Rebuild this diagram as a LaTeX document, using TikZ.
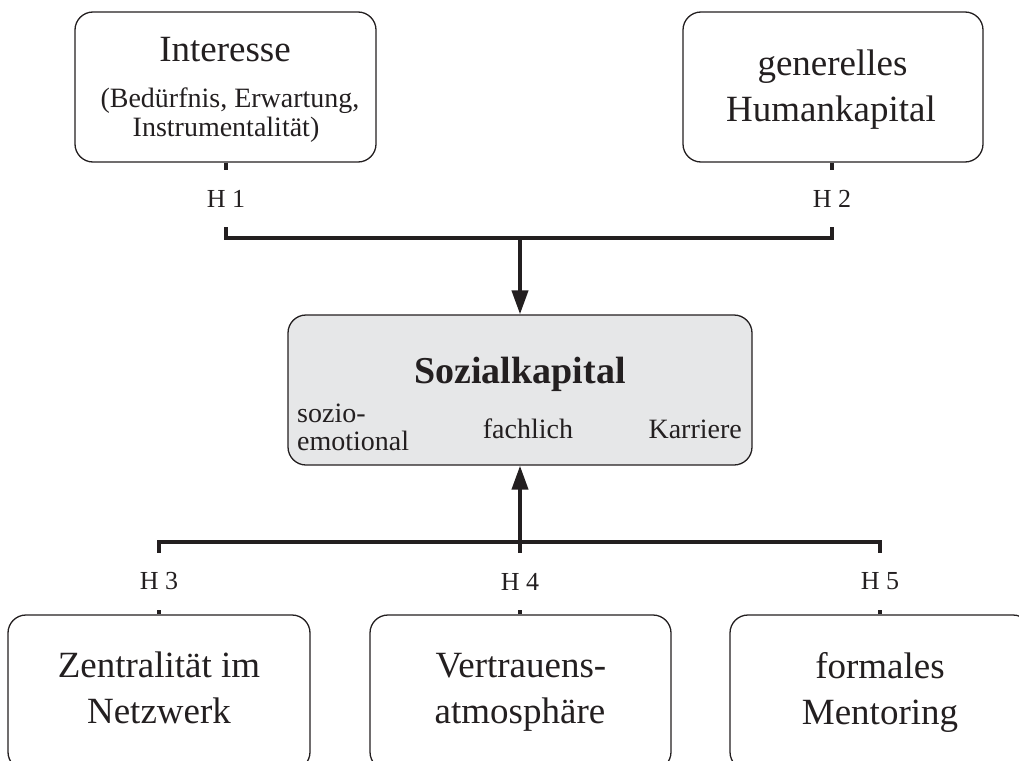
\documentclass[tikz,border=0pt]{standalone}
\usepackage{fontspec}
\setmainfont{Liberation Serif}
\usetikzlibrary{arrows.meta}
\definecolor{ink}{RGB}{35,31,32}
\definecolor{panel}{RGB}{230,231,232}

\begin{document}
\begin{tikzpicture}[x=1pt,y=-1pt,
  box/.style={draw=ink,line width=1.3pt,rounded corners=18pt,minimum height=150pt,inner sep=0pt},
  big/.style={font=\fontsize{37}{40}\selectfont,text=ink,inner sep=0pt,anchor=base},
  title/.style={font=\bfseries\fontsize{38}{40}\selectfont,text=ink,inner sep=0pt,anchor=base},
  small/.style={font=\fontsize{28}{29}\selectfont,text=ink,inner sep=0pt,anchor=base},
  hyp/.style={font=\fontsize{26}{28}\selectfont,text=ink,inner sep=0pt,minimum height=57pt},
  conn/.style={draw=ink,line width=4pt,line join=miter},
  arrowhead/.style={-{Triangle[length=24pt,width=16pt]}}
]
\useasboundingbox (0,0) rectangle (1019,760);
\clip (0,0) rectangle (1019,760);

% boxes
\node[box,minimum width=301pt] (interest) at (225.5,87) {};
\node[box,minimum width=300pt] (human) at (833,87) {};
\node[box,fill=panel,minimum width=464pt] (social) at (520,390) {};
\node[box,minimum width=302pt,minimum height=155pt] (central) at (159,692.5) {};
\node[box,minimum width=301pt,minimum height=155pt] (trust) at (520.5,692.5) {};
\node[box,minimum width=301pt,minimum height=155pt] (mentor) at (880.5,692.5) {};

% box texts
\node[big] (tInterest) at (225,62) {Interesse};
\node[small] (tNeeds) at (230,107) {(Bedürfnis, Erwartung,};
\node[small] (tInstr) at (226,136) {Instrumentalität)};
\node[big] (tGen) at (832.5,75) {generelles};
\node[big] (tHum) at (831,121) {Humankapital};
\node[title] (tSocial) at (520,383) {Sozialkapital};
\node[small,anchor=base west] (tSozio) at (297,422) {sozio-};
\node[small,anchor=base west] (tEmo) at (297,450) {emotional};
\node[small] (tFach) at (528,438) {fachlich};
\node[small,anchor=base east] (tKarr) at (742,438) {Karriere};
\node[big] (tZen) at (159,677) {Zentralität im};
\node[big] (tNetz) at (159,723) {Netzwerk};
\node[big] (tVer) at (521,677) {Vertrauens-};
\node[big] (tAtm) at (520,723) {atmosphäre};
\node[big] (tForm) at (880,678) {formales};
\node[big] (tMent) at (880,724) {Mentoring};

% hypothesis labels
\node[hyp] (h1) at (226,198.5) {H 1};
\node[hyp] (h2) at (832,198.5) {H 2};
\node[hyp] (h3) at (159,581.5) {H 3};
\node[hyp] (h4) at (520,581.5) {H 4};
\node[hyp] (h5) at (880,581.5) {H 5};

% junctions
\coordinate (topjoin) at (520,238);
\coordinate (botjoin) at (520,542);

% upper connectors
\draw[conn] (h1 |- interest.south) -- (h1.north);
\draw[conn] (h2 |- human.south) -- (h2.north);
\draw[conn] (h1.south) |- (topjoin) -| (h2.south);
\draw[conn,arrowhead] (topjoin) -- (social.north);

% lower connectors
\draw[conn] (h3.north) |- (botjoin) -| (h5.north);
\draw[conn,arrowhead] (h4.north) -- (social.south);
\draw[conn] (h3.south) -- (h3 |- central.north);
\draw[conn] (h4.south) -- (h4 |- trust.north);
\draw[conn] (h5.south) -- (h5 |- mentor.north);
\end{tikzpicture}
\end{document}
